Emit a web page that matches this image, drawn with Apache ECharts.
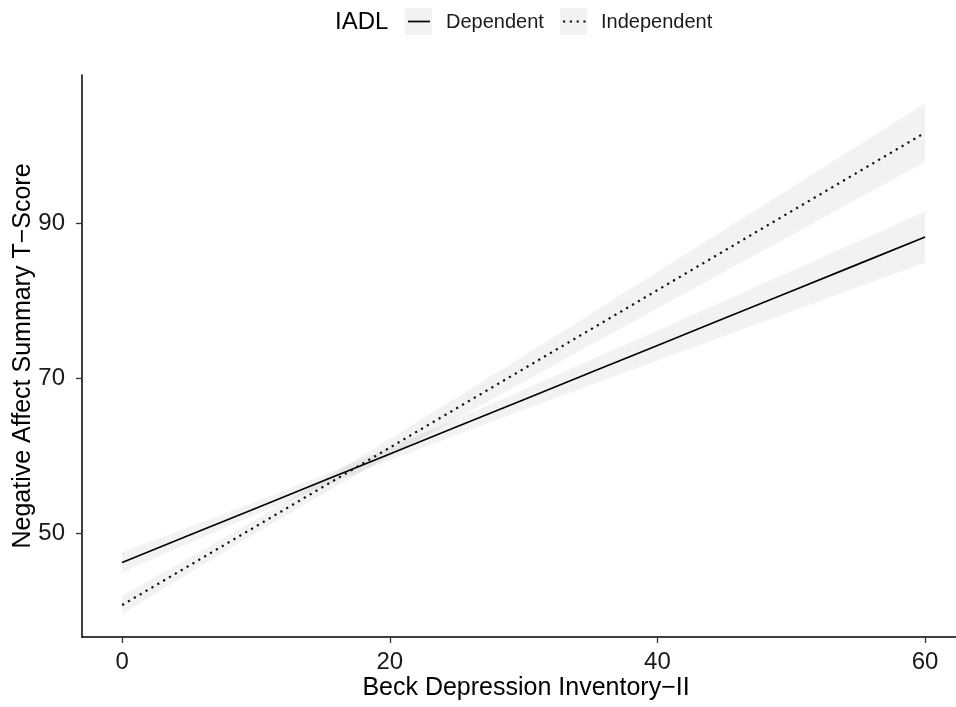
<!DOCTYPE html>
<html>
<head>
<meta charset="utf-8">
<script src="https://cdn.jsdelivr.net/npm/echarts@6/dist/echarts.min.js"></script>
<style>
html,body{margin:0;padding:0;background:#fff;}
#chart{width:956px;height:707px;}
</style>
</head>
<body>
<div id="chart"></div>
<script>
// ---- data ----
const xValues = [0, 5, 10, 15, 20, 25, 30, 35, 40, 45, 50, 55, 60];
const depFit  = [46.20, 49.70, 53.20, 56.70, 60.20, 63.70, 67.20, 70.70, 74.20, 77.70, 81.20, 84.70, 88.20];
const depLow  = [44.90, 48.68, 52.38, 55.97, 59.38, 62.68, 65.90, 69.09, 72.27, 75.43, 78.59, 81.75, 84.90];
const depHigh = [47.50, 50.73, 54.02, 57.44, 61.02, 64.73, 68.50, 72.31, 76.13, 79.97, 83.81, 87.65, 91.50];
const indFit  = [40.70, 45.78, 50.86, 55.94, 61.02, 66.10, 71.18, 76.26, 81.34, 86.42, 91.50, 96.58, 101.66];
const indLow  = [39.50, 44.80, 49.99, 55.02, 59.92, 64.73, 69.50, 74.25, 78.99, 83.71, 88.43, 93.15, 97.86];
const indHigh = [41.90, 46.76, 51.73, 56.86, 62.12, 67.47, 72.86, 78.27, 83.70, 89.13, 94.57, 100.01, 105.46];
const xTicks = [0, 20, 40, 60];
const yTicks = [50, 70, 90];
const groupNames = ['Dependent', 'Independent'];
const legendTitle = 'IADL';
const xTitle = 'Beck Depression Inventory\u2212II';
const yTitle = 'Negative Affect Summary T\u2212Score';

const FONT = '"Liberation Sans", Arial, Helvetica, sans-serif';
const BAND = 'rgba(0,0,0,0.05)';

function pairs(ys) { return xValues.map((x, i) => [x, ys[i]]); }
function bandRows(lo, hi) { return xValues.map((x, i) => [x, lo[i], hi[i]]); }

function bandRenderer(lo, hi) {
  return function (params, api) {
    if (params.dataIndex !== 0) return null;
    const pts = [];
    for (let i = 0; i < xValues.length; i++) pts.push(api.coord([xValues[i], hi[i]]));
    for (let i = xValues.length - 1; i >= 0; i--) pts.push(api.coord([xValues[i], lo[i]]));
    return {type: 'polygon', shape: {points: pts}, style: {fill: BAND, stroke: null}, silent: true};
  };
}

const chart = echarts.init(document.getElementById('chart'), null, {renderer: 'canvas'});

const lineBase = {type: 'line', symbol: 'none', silent: true, animation: false};

chart.setOption({
  backgroundColor: '#ffffff',
  animation: false,
  grid: {left: 82, right: 0, top: 75, bottom: 70, containLabel: false, outerBoundsMode: 'none'},
  xAxis: {
    type: 'value', min: -3, max: 62.31,
    name: xTitle, nameLocation: 'middle', nameGap: 39, nameMoveOverlap: false,
    nameTextStyle: {fontFamily: FONT, fontSize: 25, color: '#000', padding: [0, 0, 0, 14]},
    axisLine: {show: true, onZero: false, lineStyle: {color: '#000', width: 1.5}},
    axisTick: {show: true, length: 6, lineStyle: {color: '#333', width: 1.3}, customValues: xTicks},
    axisLabel: {fontFamily: FONT, fontSize: 24, color: '#1a1a1a', margin: 13, customValues: xTicks},
    splitLine: {show: false}
  },
  yAxis: {
    type: 'value', min: 36.58, max: 109.1,
    name: yTitle, nameLocation: 'middle', nameGap: 46, nameRotate: 90, nameMoveOverlap: false,
    nameTextStyle: {fontFamily: FONT, fontSize: 25, color: '#000'},
    axisLine: {show: true, onZero: false, lineStyle: {color: '#000', width: 1.5}},
    axisTick: {show: true, length: 6, lineStyle: {color: '#333', width: 1.3}, customValues: yTicks},
    axisLabel: {fontFamily: FONT, fontSize: 24, color: '#1a1a1a', margin: 17, customValues: yTicks},
    splitLine: {show: false}
  },
  series: [
    {type: 'custom', name: 'depBand', data: bandRows(depLow, depHigh), renderItem: bandRenderer(depLow, depHigh),
      silent: true, z: 1, encode: {x: 0, y: [1, 2]}},
    {type: 'custom', name: 'indBand', data: bandRows(indLow, indHigh), renderItem: bandRenderer(indLow, indHigh),
      silent: true, z: 1, encode: {x: 0, y: [1, 2]}},
    Object.assign({}, lineBase, {name: groupNames[0], data: pairs(depFit),
      lineStyle: {color: '#000', width: 1.7, type: 'solid'}, z: 5}),
    Object.assign({}, lineBase, {name: groupNames[1], data: pairs(indFit),
      lineStyle: {color: '#111', width: 2.2, type: [2.2, 4.6]}, z: 5})
  ],
  graphic: [
    {type: 'text', left: 335, top: 10, style: {text: legendTitle, font: '24px ' + FONT, fill: '#000'}},
    {type: 'rect', shape: {x: 405, y: 8, width: 27, height: 27}, style: {fill: '#f2f2f2'}},
    {type: 'line', shape: {x1: 408, y1: 21.5, x2: 430, y2: 21.5}, style: {stroke: '#000', lineWidth: 1.7}},
    {type: 'text', left: 446, top: 12, style: {text: groupNames[0], font: '20px ' + FONT, fill: '#1a1a1a'}},
    {type: 'rect', shape: {x: 560, y: 8, width: 27, height: 27}, style: {fill: '#f2f2f2'}},
    {type: 'line', shape: {x1: 563, y1: 21.5, x2: 586, y2: 21.5}, style: {stroke: '#111', lineWidth: 2.2, lineDash: [2.2, 4.6]}},
    {type: 'text', left: 601, top: 12, style: {text: groupNames[1], font: '20px ' + FONT, fill: '#1a1a1a'}}
  ]
});
</script>
</body>
</html>
